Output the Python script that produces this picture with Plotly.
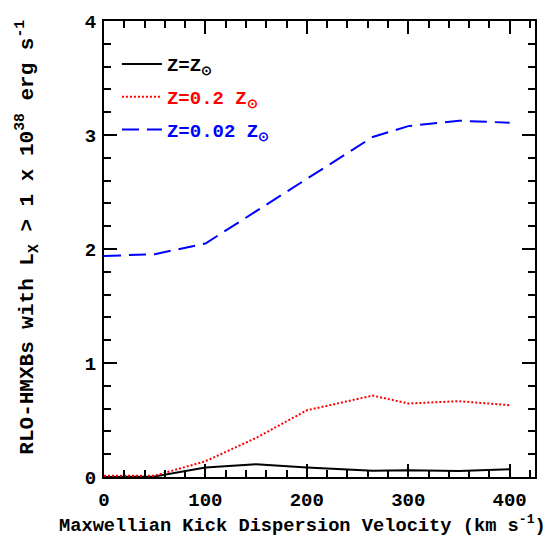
import plotly.graph_objects as go

kick_velocity = [0, 50, 100, 150, 200, 265, 300, 350, 400]
z_solar = [0.0, 0.005, 0.084, 0.112, 0.084, 0.054, 0.06, 0.052, 0.067]
z_02 = [0.01, 0.012, 0.138, 0.343, 0.585, 0.714, 0.645, 0.665, 0.63]
z_002 = [1.938, 1.955, 2.048, 2.335, 2.615, 2.983, 3.078, 3.125, 3.108]

x_ticks = [0, 100, 200, 300, 400]
y_ticks = [0, 1, 2, 3, 4]

FONT = "Liberation Mono"
FS = 19

fig = go.Figure()
fig.add_trace(go.Scatter(
    x=kick_velocity, y=z_solar, mode="lines",
    line=dict(color="black", width=2),
    name="<span style='color:black'>Z=Z<sub>⊙</sub></span>", legendgroup="a"))
fig.add_trace(go.Scatter(
    x=kick_velocity, y=z_02, mode="lines",
    line=dict(color="red", width=2, dash="2px,2px"),
    name="<span style='color:red'>Z=0.2 Z<sub>⊙</sub></span>", legendgroup="b"))
fig.add_trace(go.Scatter(
    x=kick_velocity, y=z_002, mode="lines",
    line=dict(color="blue", width=2, dash="17px,8px"),
    name="<span style='color:blue'>Z=0.02 Z<sub>⊙</sub></span>", legendgroup="c"))

axis_common = dict(
    showgrid=False, zeroline=False, showline=True, linecolor="black", linewidth=2,
    mirror="ticks", ticks="inside", ticklen=13, tickwidth=2, tickcolor="black",
    tickfont=dict(family=FONT, size=FS, color="black", weight="bold"),
)
fig.update_xaxes(range=[0, 425], tickvals=x_ticks, ticktext=[str(v) for v in x_ticks],
                 minor=dict(ticks="inside", ticklen=7, tickwidth=2, dtick=20, tick0=0, tickcolor="black"),
                 ticklabelstandoff=4, **axis_common)
fig.update_yaxes(range=[0, 4], tickvals=y_ticks, ticktext=[str(v) for v in y_ticks],
                 minor=dict(ticks="inside", ticklen=7, tickwidth=2, dtick=0.2, tick0=0, tickcolor="black"),
                 ticklabelstandoff=2, **axis_common)

fig.add_annotation(
    text="Maxwellian Kick Dispersion Velocity (km s<sup>-1</sup>)",
    xref="paper", yref="paper", x=(302 - 104) / 431, y=-(525 - 477) / 463, xanchor="center", yanchor="middle",
    showarrow=False, font=dict(family=FONT, size=18.7, color="black", weight="bold"))
fig.add_annotation(
    text="RLO-HMXBs with L<sub>X</sub> > 1 x 10<sup>38</sup> erg s<sup>-1</sup>",
    xref="paper", yref="paper", x=(27 - 104) / 431, y=(477 - 234) / 463, xanchor="center", yanchor="middle",
    textangle=-90, showarrow=False, font=dict(family=FONT, size=21, color="black", weight="bold"))

fig.update_layout(
    width=552, height=537,
    margin=dict(l=104, r=17, t=14, b=60),
    plot_bgcolor="white", paper_bgcolor="white",
    showlegend=True,
    legend=dict(x=0.03, y=0.947, xanchor="left", yanchor="top", bgcolor="rgba(0,0,0,0)",
                font=dict(family=FONT, size=FS, weight="bold"), tracegroupgap=5, itemwidth=40),
)

fig.write_html("out.html", config={"displayModeBar": False},
               post_script="document.body.style.margin='0';")
